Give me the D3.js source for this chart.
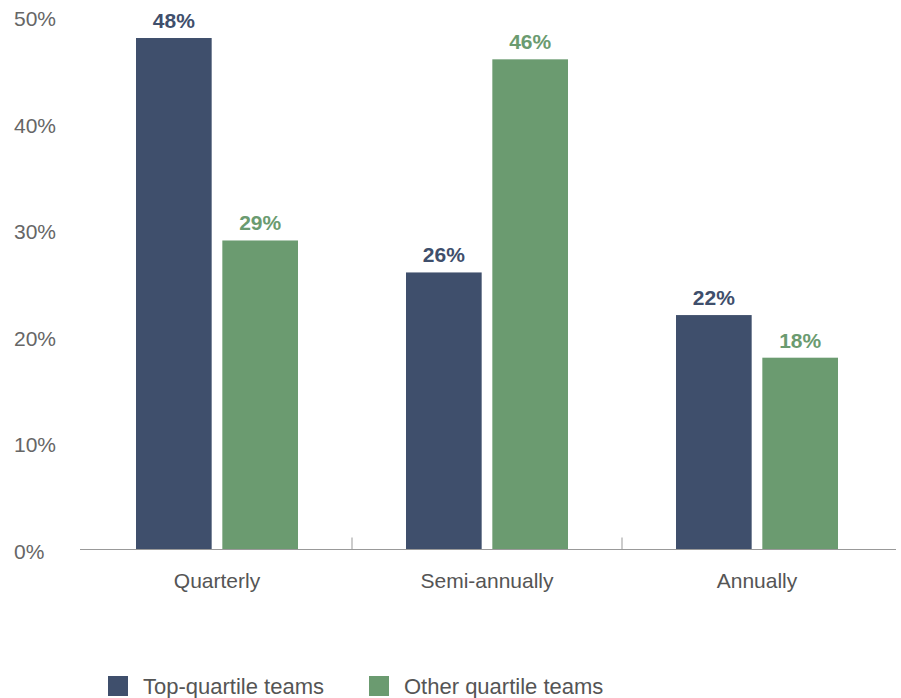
<!DOCTYPE html>
<html>
<head>
<meta charset="utf-8">
<script src="https://cdn.jsdelivr.net/npm/d3@7"></script>
<style>
  body { margin: 0; background: #fff; }
  text { font-family: "Liberation Sans", Arial, sans-serif; }
</style>
</head>
<body>
<div id="chart"></div>
<script>
// data
const categories = ["Quarterly", "Semi-annually", "Annually"];
const seriesNames = ["Top-quartile teams", "Other quartile teams"];
const topQuartile = [48, 26, 22];
const otherQuartile = [29, 46, 18];
const yTicks = [0, 10, 20, 30, 40, 50];
const colors = ["#3f4f6c", "#6b9b70"];

const svgWidth = 901, svgHeight = 698;

const svg = d3.select("#chart").append("svg")
  .attr("width", svgWidth)
  .attr("height", svgHeight);

const x = d3.scaleBand()
  .domain(categories)
  .range([82, 892])
  .padding(0);

const xInner = d3.scaleBand()
  .domain(seriesNames)
  .range([0, 162])
  .paddingInner(10 / 81);

const y = d3.scaleLinear()
  .domain([0, 50])
  .range([549.5, 16.7]);

// y labels (no gridlines)
svg.append("g")
  .selectAll("text")
  .data(yTicks)
  .enter()
  .append("text")
  .attr("x", 14)
  .attr("y", d => y(d) + 2)
  .attr("dy", "0.35em")
  .style("font-size", "21px")
  .style("fill", "#666")
  .text(d => d + "%");

// bars
const rows = categories.map((c, i) => ({ cat: c, vals: [topQuartile[i], otherQuartile[i]] }));

const groups = svg.append("g")
  .selectAll("g")
  .data(rows)
  .enter()
  .append("g")
  .attr("transform", d => "translate(" + (x(d.cat) + x.bandwidth() / 2 - 81) + ",0)");

groups.selectAll("rect")
  .data(d => d.vals.map((v, j) => ({ name: seriesNames[j], v: v, j: j })))
  .enter()
  .append("rect")
  .attr("x", d => xInner(d.name))
  .attr("width", xInner.bandwidth())
  .attr("y", d => y(d.v))
  .attr("height", d => y(0) - y(d.v))
  .attr("fill", d => colors[d.j]);

groups.selectAll("text")
  .data(d => d.vals.map((v, j) => ({ name: seriesNames[j], v: v, j: j })))
  .enter()
  .append("text")
  .attr("x", d => xInner(d.name) + xInner.bandwidth() / 2)
  .attr("y", d => y(d.v) - 10)
  .attr("text-anchor", "middle")
  .style("font-size", "21px")
  .style("font-weight", "bold")
  .style("fill", d => colors[d.j])
  .text(d => d.v + "%");

// x axis
const xAxis = svg.append("g");
xAxis.append("line")
  .attr("x1", 80).attr("x2", 896)
  .attr("y1", y(0)).attr("y2", y(0))
  .attr("stroke", "#999").attr("stroke-width", 1.2);

xAxis.selectAll("line.tick")
  .data(categories.slice(1))
  .enter()
  .append("line")
  .attr("class", "tick")
  .attr("x1", d => x(d)).attr("x2", d => x(d))
  .attr("y1", y(0) - 12).attr("y2", y(0))
  .attr("stroke", "#999");

xAxis.selectAll("text")
  .data(categories)
  .enter()
  .append("text")
  .attr("x", d => x(d) + x.bandwidth() / 2)
  .attr("y", 588)
  .attr("text-anchor", "middle")
  .style("font-size", "21px")
  .style("fill", "#555")
  .text(d => d);

// legend
const legendX = [108, 369];
const legend = svg.append("g")
  .selectAll("g")
  .data(seriesNames)
  .enter()
  .append("g")
  .attr("transform", (d, i) => "translate(" + legendX[i] + ",676)");

legend.append("rect")
  .attr("width", 20).attr("height", 20)
  .attr("fill", (d, i) => colors[i]);

legend.append("text")
  .attr("x", 35)
  .attr("y", 10)
  .attr("dy", "0.35em")
  .style("font-size", "22px")
  .style("fill", "#555")
  .text(d => d);
</script>
</body>
</html>
